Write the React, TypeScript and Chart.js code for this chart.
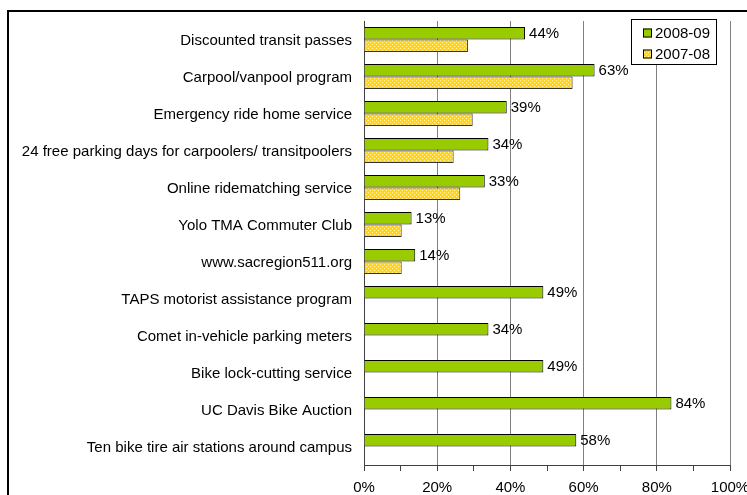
import React, { useEffect, useRef } from "react";
import { Chart, registerables } from "chart.js";

Chart.register(...registerables);

const categories = [
  "Discounted transit passes",
  "Carpool/vanpool program",
  "Emergency ride home service",
  "24 free parking days for carpoolers/ transitpoolers",
  "Online ridematching service",
  "Yolo TMA Commuter Club",
  "www.sacregion511.org",
  "TAPS motorist assistance program",
  "Comet in-vehicle parking meters",
  "Bike lock-cutting service",
  "UC Davis Bike Auction",
  "Ten bike tire air stations around campus",
];

const series2008 = [44, 63, 39, 34, 33, 13, 14, 49, 34, 49, 84, 58];
const series2007: (number | null)[] = [28.4, 57, 29.7, 24.5, 26.3, 10.3, 10.3, null, null, null, null, null];
const seriesNames = ["2008-09", "2007-08"];
const xTickStep = 10;
const xLabelStep = 20;

const FONT = "'Liberation Sans', Arial, sans-serif";

function makePattern(): CanvasPattern | string {
  const c = document.createElement("canvas");
  c.width = 4;
  c.height = 4;
  const p = c.getContext("2d");
  if (!p) return "#FFCC00";
  p.fillStyle = "#FFCC00";
  p.fillRect(0, 0, 4, 4);
  // plus-shaped light spots on a diamond lattice
  const arms = "#FFD94D";
  const centre = "#FFF0A8";
  const spots = [
    [0, 0],
    [2, 2],
  ];
  spots.forEach(([x, y]) => {
    p.fillStyle = arms;
    p.fillRect((x + 1) % 4, y, 1, 1);
    p.fillRect((x + 3) % 4, y, 1, 1);
    p.fillRect(x, (y + 1) % 4, 1, 1);
    p.fillRect(x, (y + 3) % 4, 1, 1);
  });
  spots.forEach(([x, y]) => {
    p.fillStyle = centre;
    p.fillRect(x, y, 1, 1);
  });
  const pat = p.createPattern(c, "repeat");
  return pat || "#FFCC00";
}

export default function App() {
  const ref = useRef<HTMLCanvasElement | null>(null);

  useEffect(() => {
    const canvas = ref.current;
    if (!canvas) return;
    const pattern = makePattern();

    const framePlugin = {
      id: "frame",
      beforeDraw(chart: any) {
        const ctx = chart.ctx;
        ctx.save();
        ctx.fillStyle = "#ffffff";
        ctx.fillRect(0, 0, chart.width, chart.height);
        ctx.fillStyle = "#000000";
        ctx.fillRect(7, 10, chart.width - 7, 2);
        ctx.fillRect(7, 10, 2, chart.height - 10);
        ctx.restore();
      },
    };

    const labelPlugin = {
      id: "valueLabels",
      afterDatasetsDraw(chart: any) {
        const ctx = chart.ctx;
        const meta = chart.getDatasetMeta(0);
        ctx.save();
        ctx.font = `15px ${FONT}`;
        ctx.fillStyle = "#000";
        ctx.textAlign = "left";
        ctx.textBaseline = "middle";
        meta.data.forEach((el: any, i: number) => {
          const v = series2008[i];
          ctx.fillText(`${v}%`, el.x + 4, el.y + 1);
        });
        ctx.restore();
      },
    };

    const legendPlugin = {
      id: "boxLegend",
      afterDraw(chart: any) {
        const ctx = chart.ctx;
        ctx.save();
        const bx = 631.5, by = 19.5, bw = 85, bh = 45;
        ctx.fillStyle = "#fff";
        ctx.fillRect(bx, by, bw, bh);
        ctx.strokeStyle = "#000";
        ctx.lineWidth = 1;
        ctx.strokeRect(bx, by, bw, bh);
        const fills: any[] = ["#99CC00", pattern];
        const ys = [33, 54];
        ctx.font = `15px ${FONT}`;
        ctx.textBaseline = "middle";
        ctx.textAlign = "left";
        seriesNames.forEach((name, i) => {
          const sy = ys[i] - 4.5;
          ctx.fillStyle = fills[i];
          ctx.fillRect(643, sy, 9, 9);
          ctx.strokeStyle = "#000";
          ctx.strokeRect(643.5, sy + 0.5, 8, 8);
          ctx.fillStyle = "#000";
          ctx.fillText(name, 655, ys[i] + 1);
        });
        ctx.restore();
      },
    };

    const chart = new Chart(canvas, {
      type: "bar",
      data: {
        labels: categories,
        datasets: [
          {
            label: seriesNames[0],
            data: series2008,
            backgroundColor: "#99CC00",
            borderColor: "#000000",
            borderWidth: 1,
            categoryPercentage: 0.68,
            barPercentage: 1.0,
          },
          {
            label: seriesNames[1],
            data: series2007 as any,
            backgroundColor: pattern as any,
            borderColor: "#333333",
            borderWidth: 1,
            categoryPercentage: 0.68,
            barPercentage: 1.0,
          },
        ],
      },
      options: {
        indexAxis: "y",
        responsive: false,
        animation: false,
        devicePixelRatio: 1,
        layout: { padding: { top: 18, right: 17, left: 0, bottom: 0 } },
        plugins: {
          legend: { display: false },
          tooltip: { enabled: false },
        },
        scales: {
          x: {
            type: "linear",
            min: 0,
            max: 100,
            afterFit: (s: any) => {
              s.height = 30;
              s.paddingLeft = 0;
              s.paddingRight = 0;
            },
            ticks: {
              stepSize: xTickStep,
              autoSkip: false,
              maxRotation: 0,
              padding: 8,
              color: "#000",
              font: { family: FONT, size: 15 },
              callback: (v: any) => (Number(v) % xLabelStep === 0 ? `${v}%` : ""),
            },
            grid: {
              color: (c: any) =>
                c.tick && c.tick.value % xLabelStep === 0 && c.tick.value !== 0 ? "#808080" : "rgba(0,0,0,0)",
              tickColor: "#404040",
              tickLength: 6,
              lineWidth: 1,
            },
            border: { display: true, color: "#404040", width: 1 },
          },
          y: {
            type: "category",
            afterFit: (s: any) => {
              s.width = 364;
            },
            ticks: {
              padding: 12,
              labelOffset: 1,
              color: "#000",
              font: { family: FONT, size: 15 },
              autoSkip: false,
            },
            grid: { display: true, color: "rgba(0,0,0,0)", drawTicks: false },
            border: { display: true, color: "#404040", width: 1 },
          },
        },
      } as any,
      plugins: [framePlugin, labelPlugin, legendPlugin],
    });

    return () => chart.destroy();
  }, []);

  return (
    <div style={{ position: "fixed", left: 0, top: 0, width: 747, height: 495, background: "#fff" }}>
      <canvas ref={ref} width={747} height={495} style={{ width: 747, height: 495, display: "block" }} />
    </div>
  );
}
